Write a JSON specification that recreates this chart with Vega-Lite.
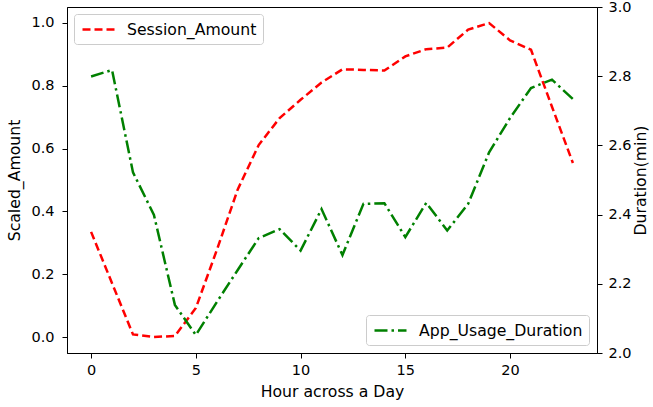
{
  "$schema": "https://vega.github.io/schema/vega-lite/v6.json",
  "autosize": {"type": "none"},
  "width": 530,
  "height": 346,
  "padding": {"left": 67, "top": 7, "right": 56, "bottom": 54},
  "background": "white",
  "config": {
    "font": "DejaVu Sans",
    "view": {"stroke": "black", "strokeWidth": 1},
    "axis": {
      "grid": false,
      "domainColor": "black",
      "tickColor": "black",
      "tickSize": 5,
      "labelFontSize": 14.5,
      "labelColor": "black",
      "titleFontSize": 15.7,
      "titleFontWeight": "normal",
      "titleColor": "black"
    },
    "legend": {
      "fillColor": "white",
      "strokeColor": "#cccccc",
      "cornerRadius": 3,
      "padding": 6,
      "labelFontSize": 15.7,
      "labelColor": "black",
      "labelLimit": 400,
      "symbolType": "M-2,0H2",
      "symbolStrokeWidth": 2.5,
      "symbolSize": 256,
      "symbolOffset": 9,
      "labelOffset": 19
    }
  },
  "data": {
    "values": [
      {"hour": 0, "s": 0.335, "d": 2.799},
      {"hour": 1, "s": 0.172, "d": 2.818},
      {"hour": 2, "s": 0.009, "d": 2.522},
      {"hour": 3, "s": 0.001, "d": 2.399},
      {"hour": 4, "s": 0.004, "d": 2.139},
      {"hour": 5, "s": 0.093, "d": 2.052},
      {"hour": 6, "s": 0.277, "d": 2.147},
      {"hour": 7, "s": 0.47, "d": 2.24},
      {"hour": 8, "s": 0.611, "d": 2.332},
      {"hour": 9, "s": 0.697, "d": 2.358},
      {"hour": 10, "s": 0.755, "d": 2.296},
      {"hour": 11, "s": 0.81, "d": 2.416},
      {"hour": 12, "s": 0.852, "d": 2.283},
      {"hour": 13, "s": 0.85, "d": 2.431},
      {"hour": 14, "s": 0.848, "d": 2.433},
      {"hour": 15, "s": 0.893, "d": 2.335},
      {"hour": 16, "s": 0.916, "d": 2.434},
      {"hour": 17, "s": 0.921, "d": 2.354},
      {"hour": 18, "s": 0.978, "d": 2.431},
      {"hour": 19, "s": 0.999, "d": 2.58},
      {"hour": 20, "s": 0.944, "d": 2.679},
      {"hour": 21, "s": 0.914, "d": 2.766},
      {"hour": 22, "s": 0.733, "d": 2.79},
      {"hour": 23, "s": 0.554, "d": 2.734}
    ]
  },
  "encoding": {
    "x": {
      "field": "hour",
      "type": "quantitative",
      "scale": {"domain": [-1.15, 24.15], "nice": false, "zero": false},
      "axis": {"values": [0, 5, 10, 15, 20], "title": "Hour across a Day", "labelPadding": 5, "titlePadding": 8, "format": "d"}
    }
  },
  "layer": [
    {
      "mark": {"type": "line", "strokeWidth": 2.5, "strokeDash": [8, 4]},
      "encoding": {
        "y": {
          "field": "s",
          "type": "quantitative",
          "scale": {"domain": [-0.05, 1.05], "nice": false, "zero": false},
          "axis": {"values": [0, 0.2, 0.4, 0.6, 0.8, 1.0], "format": ".1f", "title": "Scaled_Amount", "labelPadding": 8, "titlePadding": 8}
        },
        "color": {
          "datum": "Session_Amount",
          "type": "nominal",
          "scale": {"range": ["#ff0000"]},
          "legend": {"title": null, "orient": "top-left", "offset": 7, "symbolDash": [8, 4], "symbolStrokeColor": "#ff0000"}
        }
      }
    },
    {
      "mark": {"type": "line", "strokeWidth": 2.5, "strokeDash": [13, 4, 2.5, 4]},
      "encoding": {
        "y": {
          "field": "d",
          "type": "quantitative",
          "scale": {"domain": [2.0, 3.0], "nice": false, "zero": false},
          "axis": {"orient": "right", "values": [2.0, 2.2, 2.4, 2.6, 2.8, 3.0], "format": ".1f", "title": "Duration(min)", "titleAngle": 270, "titleBaseline": "top", "labelPadding": 6, "titlePadding": 2}
        },
        "color": {
          "datum": "App_Usage_Duration",
          "type": "nominal",
          "scale": {"range": ["#008000"]},
          "legend": {"title": null, "orient": "bottom-right", "offset": 8, "symbolDash": [13, 4, 2.5, 4], "symbolStrokeColor": "#008000"}
        }
      }
    }
  ],
  "resolve": {"scale": {"y": "independent", "color": "independent"}, "legend": {"color": "independent"}}
}
